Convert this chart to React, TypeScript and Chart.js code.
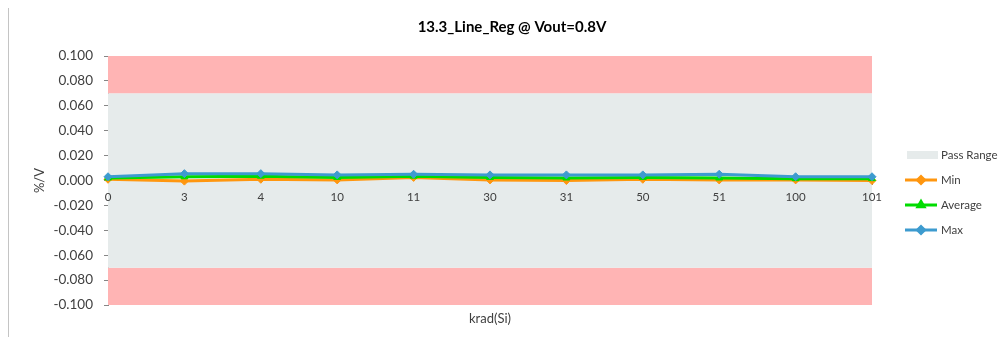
import React, { useEffect, useRef } from 'react';
import { Chart, registerables } from 'chart.js';
import { drawPoint } from 'chart.js/helpers';

Chart.register(...registerables);

// Irradiation steps (krad(Si)) and line regulation results (%/V)
const categories = ['0', '3', '4', '10', '11', '30', '31', '50', '51', '100', '101'];
const minValues = [0.001, -0.0005, 0.001, 0.0005, 0.0025, 0.0005, 0.0, 0.001, 0.0005, 0.0005, 0.0];
const averageValues = [0.002, 0.003, 0.0035, 0.0025, 0.0035, 0.0025, 0.002, 0.0025, 0.002, 0.0015, 0.0015];
const maxValues = [0.003, 0.0055, 0.0055, 0.0045, 0.005, 0.0045, 0.0045, 0.0045, 0.005, 0.003, 0.003];

// Specification limits and axis range
const passLimits = [-0.07, 0.07];
const axisRange = [-0.1, 0.1];
const tickStep = 0.02;

const FONT = 'Lato, "Open Sans", sans-serif';
const RED_BAND = '#FFB4B4';
const PASS_BAND = '#E6EBEB';
const MIN_COLOR = '#FF960F';
const AVG_COLOR = '#00DC00';
const MAX_COLOR = '#3D9BCF';

const legendOrder = ['Pass Range', 'Min', 'Average', 'Max'];

// Legend drawn at the right of the plot: swatch for the band, line + marker for series
const sideLegend = {
  id: 'sideLegend',
  afterDraw(chart: any) {
    const { ctx, chartArea } = chart;
    const x0 = chartArea.right + 33;
    const mid = (chartArea.top + chartArea.bottom) / 2;
    const y0 = mid - 25.5;
    const gap = 25;
    ctx.save();
    ctx.font = `11.5px ${FONT}`;
    ctx.textBaseline = 'middle';
    ctx.textAlign = 'left';
    legendOrder.forEach((label, i) => {
      const ds: any = chart.data.datasets.find((d: any) => d.label === label);
      if (!ds) return;
      const y = y0 + i * gap;
      if (label === 'Pass Range') {
        ctx.fillStyle = ds.backgroundColor;
        ctx.fillRect(x0 + 2, y - 4, 31, 8);
      } else {
        ctx.strokeStyle = ds.borderColor;
        ctx.lineWidth = 3;
        ctx.beginPath();
        ctx.moveTo(x0, y);
        ctx.lineTo(x0 + 32, y);
        ctx.stroke();
        ctx.fillStyle = ds.pointBackgroundColor;
        ctx.strokeStyle = ds.pointBorderColor;
        drawPoint(ctx, { pointStyle: ds.pointStyle, radius: 3.5, rotation: 0, borderWidth: 1 }, x0 + 16, y);
      }
      ctx.fillStyle = '#404040';
      ctx.fillText(label, x0 + 36, y + 0.5);
    });
    ctx.restore();
  },
};

const band = (label: string, value: number, target: number, color: string) => ({
  type: 'line' as const,
  label,
  data: categories.map(() => value),
  borderColor: 'transparent',
  borderWidth: 0,
  backgroundColor: color,
  pointRadius: 0,
  pointHoverRadius: 0,
  fill: { value: target },
  order: 10,
});

const series = (label: string, data: number[], color: string, style: string, order: number) => ({
  type: 'line' as const,
  label,
  data,
  borderColor: color,
  backgroundColor: color,
  borderWidth: 3,
  pointStyle: style,
  pointRadius: 4,
  pointBackgroundColor: color,
  pointBorderColor: color,
  pointBorderWidth: 1,
  fill: false,
  tension: 0,
  order,
});

export default function App() {
  const canvasRef = useRef<HTMLCanvasElement | null>(null);

  useEffect(() => {
    if (!canvasRef.current) return;
    const chart = new Chart(canvasRef.current, {
      type: 'line',
      data: {
        labels: categories,
        datasets: [
          band('Upper Fail', axisRange[1], passLimits[1], RED_BAND),
          band('Pass Range', passLimits[1], passLimits[0], PASS_BAND),
          band('Lower Fail', passLimits[0], axisRange[0], RED_BAND),
          series('Min', minValues, MIN_COLOR, 'rectRot', 3),
          series('Average', averageValues, AVG_COLOR, 'triangle', 2),
          series('Max', maxValues, MAX_COLOR, 'rectRot', 1),
        ] as any,
      },
      options: {
        responsive: false,
        animation: false,
        layout: { padding: { left: 9, right: 0, top: 0, bottom: 0 } },
        plugins: {
          legend: { display: false },
          tooltip: { enabled: false },
          title: {
            display: true,
            text: '13.3_Line_Reg @ Vout=0.8V',
            color: '#000000',
            font: { family: FONT, size: 15, weight: 'bold' },
            padding: { top: 12, bottom: 20 },
          },
        },
        scales: {
          x: {
            type: 'category',
            position: { y: 0 } as any,
            offset: false,
            grid: { drawOnChartArea: false, drawTicks: true, tickLength: 4, color: '#868686', z: -1 },
            border: { display: false },
            ticks: {
              autoSkip: false,
              maxRotation: 0,
              padding: 6,
              color: '#404040',
              font: { family: FONT, size: 11.5 },
              z: 1,
            },
          } as any,
          xTitle: {
            type: 'category',
            position: 'bottom',
            grid: { display: false },
            border: { display: false },
            ticks: { display: false },
            title: {
              display: true,
              text: 'krad(Si)',
              color: '#404040',
              font: { family: FONT, size: 13 },
              padding: { top: 6, bottom: 10 },
            },
            afterFit(scale: any) {
              scale.height = 32;
            },
          } as any,
          y: {
            type: 'linear',
            position: 'left',
            min: axisRange[0],
            max: axisRange[1],
            grid: { drawOnChartArea: false, drawTicks: true, tickLength: 4, color: '#868686' },
            border: { display: true, color: '#868686', width: 1 },
            ticks: {
              stepSize: tickStep,
              padding: 11,
              color: '#404040',
              font: { family: FONT, size: 13.5 },
              callback: (v: any) => Number(v).toFixed(3),
            },
            title: {
              display: true,
              text: '%/V',
              color: '#404040',
              font: { family: FONT, size: 13 },
              padding: { top: 14, bottom: 0 },
            },
            afterFit(scale: any) {
              scale.width = 90;
            },
          },
          legendSpace: {
            type: 'linear',
            position: 'right',
            display: true,
            grid: { display: false },
            border: { display: false },
            ticks: { display: false },
            afterFit(scale: any) {
              scale.width = 134;
            },
          } as any,
        },
      },
      plugins: [sideLegend],
    });
    return () => chart.destroy();
  }, []);

  return (
    <div
      style={{
        marginTop: -3,
        width: 998,
        height: 332,
        borderTop: '1px solid #C4C4C4',
        borderLeft: '1px solid #C4C4C4',
        boxSizing: 'border-box',
        overflow: 'hidden',
      }}
    >
      <canvas ref={canvasRef} width={997} height={331} style={{ display: 'block' }} />
    </div>
  );
}
